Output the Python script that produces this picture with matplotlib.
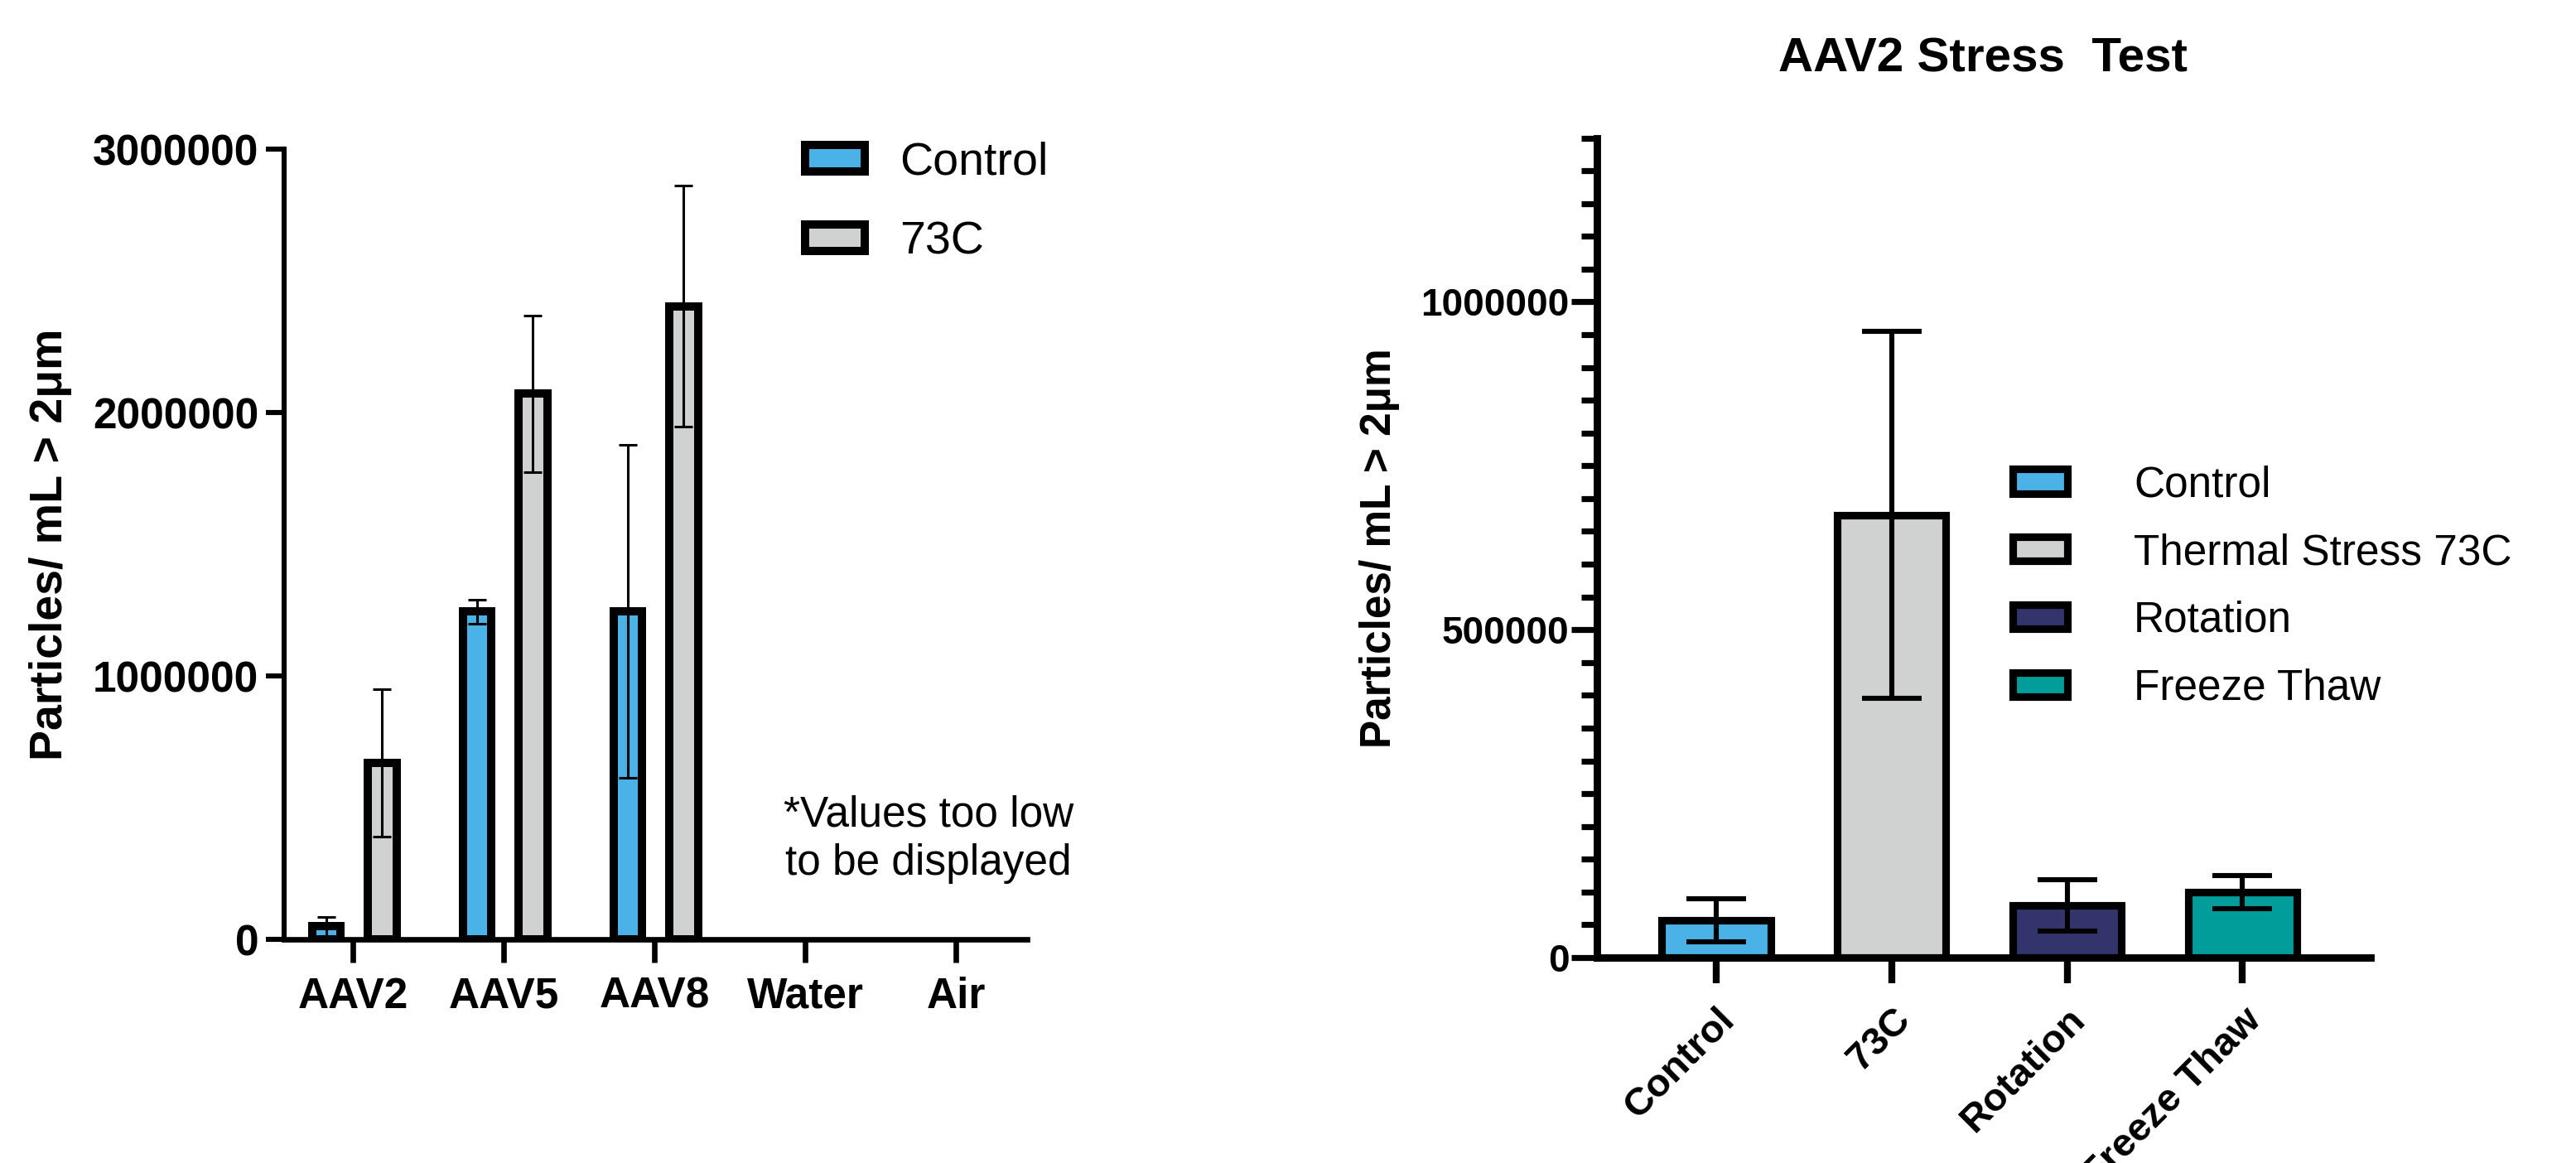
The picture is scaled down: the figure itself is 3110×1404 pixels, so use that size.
import matplotlib
matplotlib.use('Agg')
import matplotlib.pyplot as plt
import matplotlib.ticker as mticker
import numpy as np

plt.rcParams['font.family'] = ['Liberation Sans', 'DejaVu Sans']

# left panel data
groups = ['AAV2', 'AAV5', 'AAV8', 'Water', 'Air']
control_mean = [50000, 1245000, 1245000, 0, 0]
control_err = [37000, 45000, 632000, 0, 0]
hot_mean = [672000, 2072000, 2405000, 0, 0]
hot_err = [280000, 298000, 458000, 0, 0]

# right panel data
stress_labels = ['Control', '73C', 'Rotation', 'Freeze Thaw']
stress_legend = ['Control', 'Thermal Stress 73C', 'Rotation', 'Freeze Thaw']
stress_mean = [57000, 675000, 80000, 100000]
stress_err = [33000, 280000, 39000, 25000]

blue = '#4AB2E6'
grey = '#D0D2D1'
navy = '#33346B'
teal = '#009D9B'
stress_colors = [blue, grey, navy, teal]

fig = plt.figure(figsize=(15.55, 7.02), dpi=200)
plain = mticker.StrMethodFormatter('{x:.0f}')

# ---------------- left
ax1 = fig.add_axes([0.1103, 0.1921, 0.2883, 0.6794])
x = np.arange(len(groups))
shown = np.array([m > 0 for m in control_mean])  # water / air too low to draw
w = 0.19
b1 = ax1.bar(x[shown] - 0.175, np.array(control_mean)[shown], w, color=blue,
             edgecolor='black', linewidth=3.6, label='Control', zorder=2)
b2 = ax1.bar(x[shown] + 0.195, np.array(hot_mean)[shown], w, color=grey,
             edgecolor='black', linewidth=3.6, label='73C', zorder=2)
ax1.errorbar(x[shown] - 0.175, np.array(control_mean)[shown], yerr=np.array(control_err)[shown],
             fmt='none', ecolor='black', elinewidth=1.1, capsize=4, capthick=1.1, zorder=3)
ax1.errorbar(x[shown] + 0.195, np.array(hot_mean)[shown], yerr=np.array(hot_err)[shown],
             fmt='none', ecolor='black', elinewidth=1.1, capsize=4, capthick=1.1, zorder=3)

ax1.set_xlim(-0.455, 4.47)
ax1.set_ylim(0, 3000000)
ax1.set_yticks([0, 1000000, 2000000, 3000000])
ax1.yaxis.set_major_formatter(plain)
ax1.set_xticks(x)
ax1.set_xticklabels(groups, fontsize=18.5, fontweight='bold')
for lab in ax1.get_yticklabels():
    lab.set_fontsize(18.5)
    lab.set_fontweight('bold')
ax1.spines['top'].set_visible(False)
ax1.spines['right'].set_visible(False)
ax1.spines['left'].set_linewidth(2.2)
ax1.spines['bottom'].set_linewidth(2.4)
ax1.tick_params(axis='y', length=8, width=2.2, pad=3)
ax1.tick_params(axis='x', length=10, width=2.4, pad=6)
ax1.set_ylabel('Particles/ mL > 2\u03bcm', fontsize=20, fontweight='bold')
ax1.yaxis.set_label_coords(-0.285, 0.5)
ax1.legend(handles=[b1, b2], loc='upper left', bbox_to_anchor=(490 / 1568, 1 - 86 / 708),
           bbox_transform=fig.transFigure, frameon=False, fontsize=20,
           handlelength=1.3, handleheight=0.5, handletextpad=0.75,
           labelspacing=0.8, borderpad=0, borderaxespad=0)
fig.text(565 / 1568, 1 - 511 / 708, '*Values too low\nto be displayed', fontsize=18.5,
         ha='center', va='center', multialignment='center', linespacing=1.25)

# ---------------- right
ax2 = fig.add_axes([0.6199, 0.1766, 0.3004, 0.7048])
xs2 = np.arange(len(stress_labels))
bars = ax2.bar(xs2, stress_mean, 0.62, color=stress_colors, edgecolor='black',
               linewidth=3.3, zorder=2)
ax2.errorbar(xs2, stress_mean, yerr=stress_err, fmt='none', ecolor='black',
             elinewidth=2.2, capsize=13, capthick=2.2, zorder=3)
ax2.set_xlim(-0.68, 3.73)
ax2.set_ylim(0, 1250000)
ax2.set_yticks([0, 500000, 1000000])
ax2.set_yticks(np.arange(0, 1250001, 50000), minor=True)
ax2.yaxis.set_major_formatter(plain)
ax2.set_xticks(xs2)
ax2.set_xticklabels(stress_labels, rotation=45, ha='right', rotation_mode='anchor',
                    fontsize=17, fontweight='bold')
for lab in ax2.get_yticklabels():
    lab.set_fontsize(16.5)
    lab.set_fontweight('bold')
ax2.spines['top'].set_visible(False)
ax2.spines['right'].set_visible(False)
ax2.spines['left'].set_linewidth(3.2)
ax2.spines['bottom'].set_linewidth(3.2)
ax2.tick_params(axis='y', which='major', length=11, width=2.6, pad=1)
ax2.tick_params(axis='y', which='minor', length=7, width=2.6)
ax2.tick_params(axis='x', length=11, width=3, pad=8)
ax2.set_ylabel('Particles/ mL > 2\u03bcm', fontsize=18.5, fontweight='bold')
ax2.yaxis.set_label_coords(-0.255, 0.5)
fig.text(1207 / 1568, 1 - 36 / 708, 'AAV2 Stress  Test', fontsize=21, fontweight='bold',
         ha='center', va='center')
ax2.legend(handles=list(bars), labels=stress_legend, loc='upper left',
           bbox_to_anchor=(1225 / 1568, 1 - 283 / 708), bbox_transform=fig.transFigure,
           frameon=False, fontsize=18.5, handlelength=1.3, handleheight=0.5,
           handletextpad=1.55, labelspacing=0.64, borderpad=0, borderaxespad=0)

fig.savefig('out.png', dpi=200)
